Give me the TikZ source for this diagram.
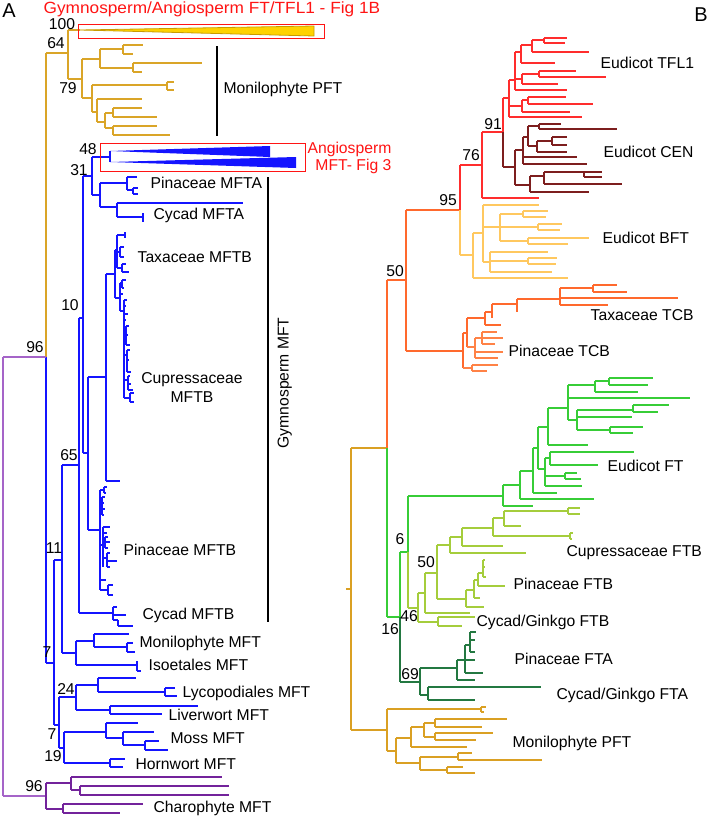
\documentclass[tikz,border=0pt]{standalone}
\usepackage{fontspec}
\setmainfont{Liberation Sans}
\definecolor{goldA}{RGB}{218,165,40}
\definecolor{blueA}{RGB}{20,20,255}
\definecolor{purpR}{RGB}{165,100,200}
\definecolor{purpC}{RGB}{115,35,155}
\definecolor{redT}{RGB}{255,45,45}
\definecolor{cenC}{RGB}{125,30,30}
\definecolor{bftC}{RGB}{255,200,95}
\definecolor{tcbC}{RGB}{255,105,45}
\definecolor{tcbP}{RGB}{255,130,70}
\definecolor{ftC}{RGB}{55,205,55}
\definecolor{ftbC}{RGB}{165,205,60}
\definecolor{ftaC}{RGB}{35,120,65}
\definecolor{pftC}{RGB}{218,160,35}
\definecolor{titleR}{RGB}{255,20,20}
\newcommand\vbr[3]{\draw (#1,#2)--(#1,#3);}
\newcommand\hbr[3]{\draw (#2,#1)--(#3,#1);}
\begin{document}
\begin{tikzpicture}[x=1pt,y=-1pt,line width=1.3pt]
\tikzset{
  lab/.style={anchor=west,inner sep=0pt,text height=11.2pt,text depth=0pt,font=\fontsize{15.7}{18}\selectfont},
  num/.style={anchor=center,inner sep=0pt,text height=11.2pt,text depth=0pt,font=\fontsize{15.7}{18}\selectfont},
  big/.style={anchor=center,inner sep=0pt,font=\fontsize{20}{22}\selectfont},
  bar/.style={draw=black,line width=1.4pt}
}
\useasboundingbox (0,0) rectangle (709,817);
\fill[white] (0,0) rectangle (709,817);

% ================= TREE A =================
\begin{scope}[draw=goldA]
\vbr{46}{53}{357}
\hbr{53}{46}{68}
\vbr{68}{30}{79}
\hbr{30}{68}{80}
\hbr{79}{68}{82}
\vbr{82}{59}{98}
\hbr{59}{82}{100}
\vbr{100}{49}{68}
\hbr{49}{100}{123}
\vbr{123}{45}{54}
\hbr{45}{123}{143}
\hbr{54}{123}{133}
\hbr{68}{100}{133}
\vbr{133}{63}{72}
\hbr{63}{133}{202}
\hbr{72}{133}{142}
\hbr{98}{82}{92}
\vbr{92}{85}{112}
\hbr{85}{92}{167}
\vbr{167}{82}{90}
\hbr{82}{167}{174}
\hbr{90}{167}{174}
\hbr{112}{92}{97}
\vbr{97}{99}{122}
\hbr{99}{97}{142}
\hbr{122}{97}{105}
\vbr{105}{113}{128}
\hbr{113}{105}{113}
\vbr{113}{108}{117}
\hbr{108}{113}{142}
\hbr{117}{113}{157}
\hbr{128}{105}{113}
\vbr{113}{126}{135}
\hbr{126}{113}{157}
\hbr{135}{113}{170}
\end{scope}
\draw[fill={rgb,255:red,255;green,210;blue,0},draw={rgb,255:red,200;green,155;blue,0},line width=0.8pt] (80,30) -- (314,26) -- (314,36) -- cycle;
\draw[titleR,line width=1pt] (78,24) rectangle (324,38);

\begin{scope}[draw=blueA]
\vbr{46}{357}{663}
\hbr{663}{46}{54}
\vbr{54}{560}{725}
\hbr{560}{54}{62}
\vbr{62}{465}{653}
\hbr{465}{62}{79}
\vbr{79}{318}{613}
\hbr{318}{79}{83}
\vbr{83}{176}{453}
\hbr{176}{83}{92}
\vbr{92}{157}{195}
\hbr{157}{92}{110}
\vbr{110}{151}{162}
\hbr{195}{92}{100}
\vbr{100}{183}{207}
\hbr{183}{100}{127}
\vbr{127}{177}{190}
\hbr{177}{127}{137}
\hbr{190}{127}{133}
\vbr{133}{188}{194}
\hbr{188}{133}{138}
\hbr{194}{133}{138}
\hbr{207}{100}{117}
\vbr{117}{203}{217}
\hbr{203}{117}{243}
\hbr{217}{117}{143}
\vbr{143}{213}{222}
\hbr{453}{83}{88}
\vbr{88}{377}{530}
\hbr{377}{88}{106}
\vbr{106}{274}{481}
\hbr{481}{106}{120}
\hbr{274}{106}{115}
\vbr{115}{250}{298}
\hbr{250}{115}{117}
\vbr{117}{235}{268}
\hbr{235}{117}{125}
\vbr{125}{232}{238}
\hbr{252}{117}{120}
\vbr{120}{247}{257}
\hbr{247}{120}{124}
\hbr{257}{120}{124}
\hbr{268}{117}{122}
\vbr{122}{264}{272}
\hbr{264}{122}{126}
\hbr{272}{122}{129}
\hbr{298}{115}{120}
\vbr{120}{283}{311}
\hbr{283}{120}{122}
\vbr{122}{280}{288}
\hbr{280}{122}{126}
\hbr{288}{122}{124}
\hbr{294}{120}{123}
\hbr{311}{120}{124}
\vbr{124}{300}{398}
\hbr{300}{124}{127}
\hbr{306}{124}{126}
\hbr{314}{124}{128}
\hbr{320}{124}{126}
\hbr{330}{124}{126}
\vbr{126}{326}{345}
\hbr{326}{126}{129}
\hbr{335}{126}{128}
\hbr{345}{126}{130}
\hbr{355}{124}{127}
\vbr{127}{350}{372}
\hbr{350}{127}{130}
\hbr{360}{127}{129}
\hbr{372}{127}{131}
\hbr{380}{124}{128}
\vbr{128}{376}{390}
\hbr{376}{128}{130}
\hbr{384}{128}{131}
\hbr{390}{128}{133}
\hbr{398}{124}{130}
\vbr{130}{393}{402}
\hbr{393}{130}{134}
\hbr{402}{130}{134}
\hbr{530}{88}{100}
\vbr{100}{490}{590}
\hbr{490}{100}{104}
\vbr{104}{487}{493}
\hbr{487}{104}{107}
\hbr{493}{104}{106}
\hbr{505}{100}{102}
\vbr{102}{497}{515}
\hbr{497}{102}{105}
\hbr{503}{102}{104}
\hbr{509}{102}{105}
\hbr{515}{102}{104}
\hbr{545}{100}{103}
\vbr{103}{527}{567}
\hbr{527}{103}{110}
\hbr{533}{103}{107}
\hbr{542}{103}{105}
\vbr{105}{537}{548}
\hbr{537}{105}{108}
\hbr{542}{105}{110}
\hbr{548}{105}{108}
\hbr{558}{103}{107}
\vbr{107}{553}{567}
\hbr{553}{107}{110}
\hbr{561}{107}{117}
\hbr{567}{107}{110}
\hbr{580}{100}{106}
\hbr{590}{100}{108}
\vbr{108}{585}{595}
\hbr{585}{108}{113}
\hbr{595}{108}{113}
\hbr{613}{79}{113}
\vbr{113}{607}{620}
\hbr{607}{113}{117}
\hbr{615}{113}{126}
\hbr{620}{113}{118}
\vbr{118}{620}{626}
\hbr{626}{118}{133}
\hbr{653}{62}{76}
\vbr{76}{641}{665}
\hbr{641}{76}{94}
\vbr{94}{634}{647}
\hbr{634}{94}{129}
\hbr{647}{94}{127}
\vbr{127}{643}{652}
\hbr{643}{127}{133}
\hbr{652}{127}{135}
\hbr{665}{76}{137}
\vbr{137}{661}{671}
\hbr{671}{137}{141}
\hbr{725}{54}{59}
\vbr{59}{697}{748}
\hbr{697}{59}{76}
\vbr{76}{685}{710}
\hbr{685}{76}{98}
\vbr{98}{678}{692}
\hbr{678}{98}{136}
\hbr{692}{98}{165}
\vbr{165}{688}{696}
\hbr{688}{165}{175}
\hbr{696}{165}{177}
\hbr{710}{76}{110}
\vbr{110}{706}{714}
\hbr{706}{110}{198}
\hbr{714}{110}{162}
\hbr{748}{59}{64}
\vbr{64}{732}{763}
\hbr{732}{64}{106}
\vbr{106}{723}{738}
\hbr{723}{106}{138}
\hbr{738}{106}{123}
\vbr{123}{732}{745}
\hbr{732}{123}{154}
\hbr{745}{123}{145}
\vbr{145}{741}{750}
\hbr{741}{145}{159}
\hbr{750}{145}{168}
\hbr{763}{64}{110}
\vbr{110}{759}{767}
\hbr{759}{110}{125}
\hbr{767}{110}{123}
\end{scope}
\fill[blueA] (110,151) -- (270,146) -- (270,157) -- cycle;
\fill[blueA] (110,162) -- (296,157) -- (296,168) -- cycle;
\draw[titleR,line width=1pt] (100,143) rectangle (305,171);

\begin{scope}[draw=purpR]
\vbr{3}{357}{796}
\hbr{357}{3}{46}
\hbr{796}{3}{46}
\end{scope}
\begin{scope}[draw=purpC]
\vbr{46}{783}{809}
\hbr{783}{46}{71}
\vbr{71}{777}{790}
\hbr{777}{71}{222}
\hbr{790}{71}{80}
\vbr{80}{786}{795}
\hbr{786}{80}{229}
\hbr{795}{80}{229}
\hbr{809}{46}{63}
\vbr{63}{804}{813}
\hbr{804}{63}{143}
\hbr{813}{63}{120}
\end{scope}

\draw[bar] (217,46) -- (217,136);
\draw[bar] (268,177) -- (268,622);

\node[big] (pA) at (9,11) {A};
\node[lab,text=titleR,font=\fontsize{16.2}{18}\selectfont] (t1) at (43,8) {\scalebox{1.065}[1]{Gymnosperm/Angiosperm FT/TFL1 - Fig 1B}};
\node[lab] (l1) at (223,88) {Monilophyte PFT};
\node[lab,anchor=east,text=titleR] (t2) at (392,148) {Angiosperm};
\node[lab,anchor=east,text=titleR] (t3) at (392,165) {MFT- Fig 3};
\node[lab] (l2) at (150,183) {Pinaceae MFTA};
\node[lab] (l3) at (153,214) {Cycad MFTA};
\node[lab] (l4) at (137,257) {Taxaceae MFTB};
\node[lab,anchor=center] (l5) at (192,378) {Cupressaceae};
\node[lab,anchor=center] (l6) at (192,397) {MFTB};
\node[lab] (l7) at (123,550) {Pinaceae MFTB};
\node[lab] (l8) at (142,614) {Cycad MFTB};
\node[lab] (l9) at (139,642) {Monilophyte MFT};
\node[lab] (l10) at (148,665) {Isoetales MFT};
\node[lab] (l11) at (182,692) {Lycopodiales MFT};
\node[lab] (l12) at (168,715) {Liverwort MFT};
\node[lab] (l13) at (170,738) {Moss MFT};
\node[lab] (l14) at (135,764) {Hornwort MFT};
\node[lab] (l15) at (153,807) {Charophyte MFT};
\node[lab,anchor=center,rotate=90] (l16) at (283,383) {Gymnosperm MFT};

\node[num] (n1) at (62,24) {100};
\node[num] (n2) at (56,43) {64};
\node[num] (n3) at (68,88) {79};
\node[num] (n4) at (88,149) {48};
\node[num] (n5) at (79,170) {31};
\node[num] (n6) at (70,305) {10};
\node[num] (n7) at (35,347) {96};
\node[num] (n8) at (69,455) {65};
\node[num] (n9) at (54,548) {11};
\node[num] (n10) at (47,652) {7};
\node[num] (n11) at (66,689) {24};
\node[num] (n12) at (52,734) {7};
\node[num] (n13) at (53,756) {19};
\node[num] (n14) at (34,786) {96};

% ================= TREE B =================
\begin{scope}[draw=pftC]
\vbr{351}{448}{730}
\hbr{589}{346}{351}
\hbr{448}{351}{387}
\hbr{730}{351}{387}
\vbr{387}{709}{751}
\hbr{709}{387}{481}
\vbr{481}{707}{712}
\hbr{707}{481}{486}
\hbr{712}{481}{484}
\hbr{751}{387}{396}
\vbr{396}{738}{763}
\hbr{738}{396}{411}
\vbr{411}{727}{747}
\hbr{727}{411}{424}
\vbr{424}{723}{737}
\hbr{723}{424}{435}
\vbr{435}{719}{727}
\hbr{719}{435}{507}
\hbr{727}{435}{482}
\hbr{737}{424}{435}
\vbr{435}{733}{740}
\hbr{733}{435}{493}
\hbr{740}{435}{476}
\hbr{747}{411}{467}
\hbr{763}{396}{420}
\vbr{420}{757}{770}
\hbr{757}{420}{458}
\vbr{458}{753}{760}
\hbr{753}{458}{472}
\hbr{760}{458}{542}
\hbr{770}{420}{447}
\vbr{447}{767}{773}
\hbr{767}{447}{463}
\hbr{773}{447}{475}
\end{scope}

\begin{scope}[draw=tcbC]
\vbr{387}{280}{448}
\hbr{280}{387}{406}
\vbr{406}{210}{351}
\hbr{210}{406}{460}
\hbr{351}{406}{463}
\vbr{463}{333}{368}
\hbr{333}{463}{467}
\vbr{467}{318}{347}
\hbr{318}{467}{485}
\vbr{485}{312}{325}
\hbr{325}{485}{501}
\hbr{312}{485}{492}
\vbr{492}{304}{318}
\hbr{304}{492}{517}
\vbr{517}{299}{312}
\hbr{299}{517}{560}
\vbr{560}{288}{305}
\hbr{288}{560}{593}
\vbr{593}{285}{292}
\hbr{285}{593}{617}
\hbr{292}{593}{627}
\hbr{298}{560}{678}
\hbr{305}{560}{608}
\end{scope}
\begin{scope}[draw=tcbP]
\hbr{347}{467}{475}
\vbr{475}{338}{358}
\hbr{338}{475}{482}
\vbr{482}{332}{344}
\hbr{332}{482}{497}
\hbr{338}{482}{503}
\hbr{344}{482}{495}
\hbr{352}{475}{503}
\hbr{358}{475}{498}
\hbr{368}{463}{472}
\vbr{472}{365}{371}
\hbr{365}{472}{498}
\hbr{371}{472}{487}
\end{scope}

\begin{scope}[draw=redT]
\vbr{460}{165}{210}
\hbr{165}{460}{482}
\vbr{482}{132}{198}
\hbr{198}{482}{539}
\hbr{132}{482}{503}
\vbr{503}{98}{132}
\hbr{98}{503}{509}
\vbr{509}{80}{117}
\hbr{80}{509}{515}
\vbr{515}{52}{90}
\hbr{52}{515}{521}
\vbr{521}{45}{63}
\hbr{45}{521}{532}
\vbr{532}{40}{52}
\hbr{40}{532}{544}
\vbr{544}{38}{43}
\hbr{38}{544}{567}
\hbr{43}{544}{565}
\hbr{52}{532}{589}
\hbr{63}{521}{555}
\hbr{79}{515}{522}
\vbr{522}{74}{84}
\hbr{74}{522}{539}
\vbr{539}{71}{77}
\hbr{71}{539}{576}
\hbr{77}{539}{606}
\hbr{84}{522}{558}
\hbr{90}{515}{567}
\hbr{106}{509}{522}
\vbr{522}{100}{112}
\hbr{100}{522}{528}
\vbr{528}{97}{104}
\hbr{97}{528}{566}
\hbr{104}{528}{593}
\hbr{112}{522}{570}
\hbr{117}{509}{582}
\end{scope}
\begin{scope}[draw=cenC]
\vbr{503}{132}{167}
\hbr{167}{503}{515}
\vbr{515}{150}{185}
\hbr{150}{515}{523}
\vbr{523}{137}{164}
\hbr{137}{523}{528}
\vbr{528}{126}{146}
\hbr{126}{528}{539}
\vbr{539}{124}{129}
\hbr{124}{539}{561}
\hbr{129}{539}{617}
\hbr{146}{528}{537}
\vbr{537}{141}{152}
\hbr{141}{537}{552}
\vbr{552}{137}{145}
\hbr{137}{552}{567}
\hbr{145}{552}{567}
\hbr{152}{537}{567}
\hbr{157}{523}{577}
\hbr{164}{523}{587}
\hbr{185}{515}{530}
\vbr{530}{176}{192}
\hbr{176}{530}{544}
\vbr{544}{172}{184}
\hbr{172}{544}{602}
\vbr{584}{172}{177}
\hbr{177}{584}{602}
\hbr{184}{544}{622}
\hbr{192}{530}{589}
\end{scope}
\begin{scope}[draw=bftC]
\vbr{460}{210}{255}
\hbr{255}{460}{473}
\vbr{473}{233}{278}
\hbr{278}{473}{568}
\hbr{233}{473}{483}
\vbr{483}{205}{262}
\hbr{205}{483}{539}
\hbr{227}{483}{538}
\vbr{500}{214}{241}
\hbr{214}{500}{523}
\vbr{523}{211}{217}
\hbr{211}{523}{548}
\hbr{217}{523}{546}
\vbr{538}{224}{230}
\hbr{224}{538}{562}
\hbr{230}{538}{560}
\hbr{241}{500}{528}
\vbr{528}{238}{244}
\hbr{238}{528}{589}
\hbr{244}{528}{568}
\hbr{262}{483}{490}
\vbr{490}{252}{272}
\hbr{252}{490}{548}
\hbr{261}{490}{528}
\vbr{528}{258}{264}
\hbr{258}{528}{557}
\hbr{264}{528}{556}
\hbr{272}{490}{552}
\end{scope}

\begin{scope}[draw=ftC]
\vbr{387}{448}{617}
\hbr{617}{387}{400}
\vbr{400}{552}{617}
\hbr{552}{400}{408}
\vbr{408}{496}{552}
\hbr{496}{408}{503}
\vbr{503}{485}{506}
\hbr{506}{503}{533}
\hbr{485}{503}{520}
\vbr{520}{471}{499}
\hbr{499}{520}{594}
\hbr{471}{520}{533}
\vbr{533}{448}{493}
\hbr{493}{533}{557}
\hbr{448}{533}{538}
\vbr{538}{427}{469}
\hbr{469}{538}{545}
\vbr{545}{458}{486}
\hbr{458}{545}{550}
\vbr{550}{452}{465}
\hbr{452}{550}{634}
\hbr{465}{550}{598}
\hbr{476}{545}{565}
\vbr{565}{473}{479}
\hbr{473}{565}{577}
\hbr{479}{565}{581}
\hbr{486}{545}{582}
\hbr{427}{538}{548}
\vbr{548}{408}{445}
\hbr{445}{548}{588}
\hbr{408}{548}{568}
\vbr{568}{385}{420}
\hbr{385}{568}{595}
\vbr{595}{381}{392}
\hbr{381}{595}{609}
\vbr{609}{378}{385}
\hbr{378}{609}{653}
\hbr{385}{609}{648}
\hbr{392}{595}{638}
\hbr{398}{568}{690}
\hbr{420}{568}{577}
\vbr{577}{410}{430}
\hbr{410}{577}{633}
\vbr{633}{405}{412}
\hbr{405}{633}{669}
\hbr{412}{633}{658}
\hbr{417}{577}{632}
\hbr{430}{577}{610}
\vbr{610}{427}{433}
\hbr{427}{610}{643}
\hbr{433}{610}{633}
\end{scope}

\begin{scope}[draw=ftbC]
\vbr{408}{552}{608}
\hbr{608}{408}{418}
\vbr{418}{593}{622}
\hbr{593}{418}{425}
\vbr{425}{573}{613}
\hbr{613}{425}{470}
\hbr{573}{425}{437}
\vbr{437}{545}{599}
\hbr{545}{437}{450}
\vbr{450}{537}{553}
\hbr{537}{450}{462}
\vbr{462}{528}{546}
\hbr{528}{462}{493}
\vbr{493}{518}{536}
\hbr{518}{493}{504}
\vbr{504}{511}{526}
\hbr{511}{504}{568}
\vbr{568}{508}{514}
\hbr{508}{568}{580}
\hbr{514}{568}{580}
\hbr{526}{504}{521}
\hbr{536}{493}{570}
\vbr{570}{533}{539}
\hbr{533}{570}{573}
\hbr{539}{570}{572}
\hbr{546}{462}{503}
\hbr{553}{450}{526}
\hbr{599}{437}{466}
\vbr{466}{590}{607}
\hbr{607}{466}{484}
\hbr{590}{466}{474}
\vbr{474}{580}{598}
\hbr{598}{474}{480}
\hbr{580}{474}{478}
\vbr{478}{573}{586}
\hbr{586}{478}{505}
\hbr{573}{478}{483}
\vbr{483}{560}{577}
\hbr{560}{483}{485}
\hbr{567}{483}{485}
\hbr{577}{483}{486}
\hbr{622}{418}{438}
\vbr{438}{617}{626}
\hbr{617}{438}{475}
\hbr{626}{438}{462}
\end{scope}

\begin{scope}[draw=ftaC]
\vbr{400}{617}{682}
\hbr{682}{400}{420}
\vbr{420}{668}{695}
\hbr{668}{420}{457}
\vbr{457}{660}{680}
\hbr{680}{457}{475}
\hbr{660}{457}{465}
\vbr{465}{645}{673}
\hbr{645}{465}{470}
\vbr{470}{632}{652}
\hbr{632}{470}{476}
\hbr{640}{470}{475}
\hbr{652}{470}{475}
\hbr{660}{465}{475}
\hbr{673}{465}{483}
\hbr{695}{420}{428}
\vbr{428}{687}{700}
\hbr{687}{428}{541}
\hbr{700}{428}{475}
\end{scope}

\node[big] (pB) at (701,15) {B};
\node[lab] (m1) at (600,63) {Eudicot TFL1};
\node[lab] (m2) at (603,152) {Eudicot CEN};
\node[lab] (m3) at (602,238) {Eudicot BFT};
\node[lab] (m4) at (590,315) {Taxaceae TCB};
\node[lab] (m5) at (508,351) {Pinaceae TCB};
\node[lab] (m6) at (607,466) {Eudicot FT};
\node[lab] (m7) at (566,551) {Cupressaceae FTB};
\node[lab] (m8) at (513,584) {Pinaceae FTB};
\node[lab] (m9) at (476,621) {Cycad/Ginkgo FTB};
\node[lab] (m10) at (514,659) {Pinaceae FTA};
\node[lab] (m11) at (556,694) {Cycad/Ginkgo FTA};
\node[lab] (m12) at (512,742) {Monilophyte PFT};

\node[num] (b1) at (493,124) {91};
\node[num] (b2) at (471,155) {76};
\node[num] (b3) at (448,200) {95};
\node[num] (b4) at (395,271) {50};
\node[num] (b5) at (400,539) {6};
\node[num] (b6) at (426,562) {50};
\node[num] (b7) at (409,616) {46};
\node[num] (b8) at (390,629) {16};
\node[num] (b9) at (410,674) {69};
\end{tikzpicture}
\end{document}
